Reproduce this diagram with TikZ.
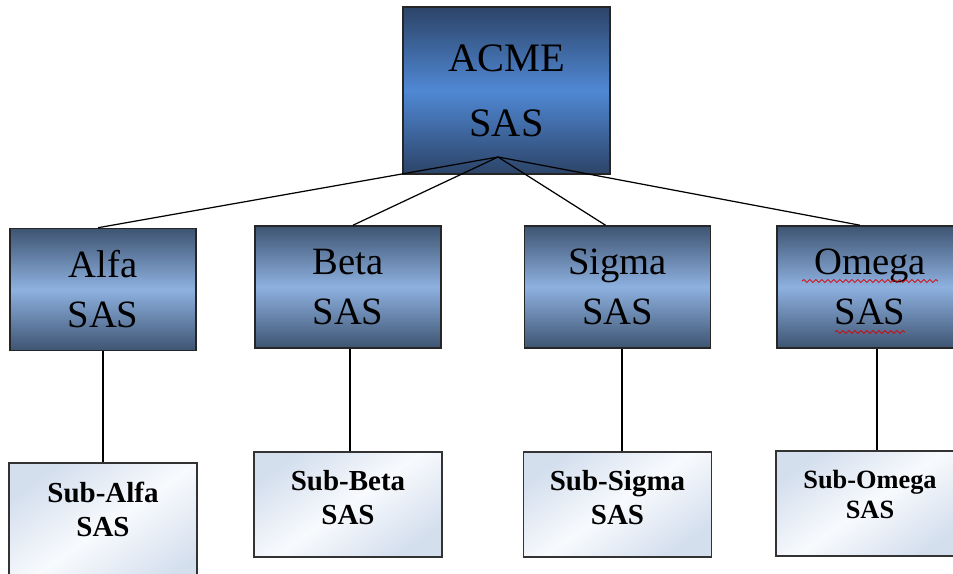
\documentclass[tikz,border=0pt]{standalone}
\usepackage{fontspec}
\setmainfont{Liberation Serif}
\usetikzlibrary{decorations.pathmorphing}
\definecolor{acmedark}{RGB}{44,68,104}
\definecolor{acmemid}{RGB}{80,136,212}
\definecolor{firmdark}{RGB}{62,84,114}
\definecolor{firmmid}{RGB}{142,177,224}
\definecolor{subblue}{RGB}{212,223,238}
\definecolor{subwhite}{RGB}{248,250,253}
\tikzset{every node/.style={align=center, text=black},
  headbox/.style={draw=black!85, line width=0.9pt, minimum width=4.14cm, minimum height=3.34cm,
    top color=acmedark, bottom color=acmedark, middle color=acmemid,
    font=\fontsize{23}{37}\selectfont},
  firmbox/.style={draw=black!85, line width=0.9pt, minimum width=3.72cm, minimum height=2.44cm,
    top color=firmdark, bottom color=firmdark, middle color=firmmid,
    font=\fontsize{22}{28.5}\selectfont},
  subbox/.style={draw=black!80, line width=0.9pt, minimum width=3.76cm, minimum height=2.1cm,
    shading=axis, top color=subblue, bottom color=subblue, middle color=subwhite, shading angle=35},
  subtext/.style={font=\bfseries\fontsize{16.5}{19.3}\selectfont, yshift=0.14cm},
  link/.style={line width=0.7pt, black},
  squiggle/.style={red!85!black, line width=0.45pt, decorate,
    decoration={snake, segment length=0.12cm, amplitude=0.03cm}}}

\begin{document}
\begin{tikzpicture}[x=0.02cm, y=-0.02cm]
  \useasboundingbox (0,0) rectangle (953,574);
  % top of the tree
  \node[headbox] (acme) at (506.5,90.5) {ACME\\SAS};
  \coordinate (hub) at (498,157);
  % second row
  \node[firmbox] (alfa) at (103,289.5) {Alfa\\SAS};
  \node[firmbox] (beta) at (348,287) {Beta\\SAS};
  \node[firmbox] (sigma) at (617.5,287) {Sigma\\SAS};
  \node[firmbox] (omega) at (870,287) {Omega\\SAS};
  % third row
  \node[subbox, minimum height=2.6cm, label={[subtext, yshift=0.23cm]center:Sub-Alfa\\SAS}] (subalfa) at (103,528) {};
  \node[subbox, label={[subtext]center:Sub-Beta\\SAS}] (subbeta) at (348,504.5) {};
  \node[subbox, label={[subtext]center:Sub-Sigma\\SAS}] (subsigma) at (617.5,504.5) {};
  \node[subbox, label={[subtext, yshift=0.04cm, font=\bfseries\fontsize{15}{17}\selectfont]center:Sub-Omega\\SAS}] (subomega) at (870,503.5) {};
  % connectors
  \foreach \n/\dx in {alfa/-5, beta/5, sigma/-12, omega/-10}
    \draw[link] (hub) -- ([xshift=\dx*0.02cm]\n.north);
  \foreach \n/\dx in {alfa/0, beta/2, sigma/4.5, omega/7}
    \draw[link] ([xshift=\dx*0.02cm]\n.south) -- ([xshift=\dx*0.02cm]sub\n.north);
  % spell check marks
  \draw[squiggle] (802,281) -- (938,281);
  \draw[squiggle] (835,332) -- (905,332);
\end{tikzpicture}
\end{document}
